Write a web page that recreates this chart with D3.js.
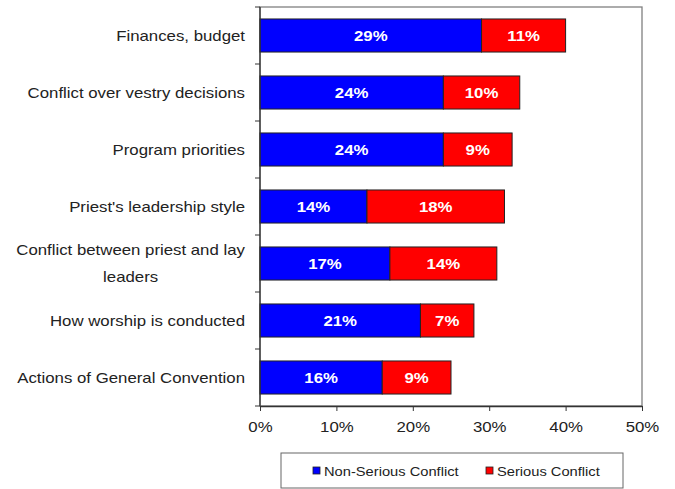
<!DOCTYPE html>
<html>
<head>
<meta charset="utf-8">
<script src="https://cdn.jsdelivr.net/npm/d3@7"></script>
<style>
  html, body { margin: 0; padding: 0; background: #fff; }
  svg { display: block; font-family: "Liberation Sans", Arial, sans-serif; }
</style>
</head>
<body>
<svg id="chart" width="675" height="489"></svg>
<script>
// Sources of congregational conflict, percent of respondents
const categories = [
  "Finances, budget",
  "Conflict over vestry decisions",
  "Program priorities",
  "Priest's leadership style",
  "Conflict between priest and lay|leaders",
  "How worship is conducted",
  "Actions of General Convention"
];
const nonSerious = [29, 24, 24, 14, 17, 21, 16];
const serious    = [11, 10, 9, 18, 14, 7, 9];
const seriesNames = ["Non-Serious Conflict", "Serious Conflict"];
const seriesColors = ["#0000ff", "#ff0000"];
const xTicks = [0, 10, 20, 30, 40, 50];

const svg = d3.select("#chart");
const plot = { left: 260, top: 7, right: 642, bottom: 406 };
const stretch = 1.2; // wide typeface proportions

// text placed at (x, y), widened horizontally around its anchor
function wideText(parent, x, y, str, anchor, size, sx) {
  return parent.append("text")
    .attr("transform", `translate(${x},${y}) scale(${sx},1)`)
    .attr("dy", "0.36em")
    .attr("text-anchor", anchor)
    .attr("font-size", size)
    .text(str);
}

const x = d3.scaleLinear().domain([0, 50]).range([plot.left, plot.right]);
const y = d3.scaleBand().domain(categories).range([plot.top, plot.bottom]).paddingInner(0.42).paddingOuter(0.21);
const yOuter = d3.scaleBand().domain(categories).range([plot.top, plot.bottom]);

// plot frame
svg.append("rect")
  .attr("x", plot.left).attr("y", plot.top)
  .attr("width", plot.right - plot.left).attr("height", plot.bottom - plot.top)
  .attr("fill", "none").attr("stroke", "#808080").attr("stroke-width", 1.3);

// stacked bars
const rows = categories.map((c, i) => ({ cat: c, vals: [nonSerious[i], serious[i]] }));
rows.forEach(r => {
  let acc = 0;
  r.vals.forEach((v, j) => {
    const x0 = acc, x1 = acc + v;
    acc = x1;
    svg.append("rect")
      .attr("x", x(x0)).attr("y", y(r.cat))
      .attr("width", x(x1) - x(x0)).attr("height", y.bandwidth())
      .attr("fill", seriesColors[j])
      .attr("stroke", "#222").attr("stroke-width", 1);
    wideText(svg, (x(x0) + x(x1)) / 2, y(r.cat) + y.bandwidth() / 2, v + "%", "middle", 14, stretch)
      .attr("fill", "#fff").attr("font-weight", "bold");
  });
});

// x axis
const xAxis = svg.append("g")
  .attr("transform", `translate(0,${plot.bottom})`)
  .call(d3.axisBottom(x).tickValues(xTicks).tickFormat(d => d + "%").tickSize(5).tickSizeOuter(0));
xAxis.select(".domain").attr("stroke", "#333").attr("stroke-width", 1.3);
xAxis.selectAll(".tick line").attr("stroke", "#333");
xAxis.selectAll(".tick text").remove();
xAxis.selectAll(".tick").each(function(d) {
  wideText(d3.select(this), 0, 21, d + "%", "middle", 14, stretch).attr("fill", "#222");
});

// y axis line with ticks at band boundaries
svg.append("line")
  .attr("x1", plot.left).attr("x2", plot.left)
  .attr("y1", plot.top).attr("y2", plot.bottom)
  .attr("stroke", "#333").attr("stroke-width", 1.3);
const bounds = categories.map(c => yOuter(c)).concat([plot.bottom]);
svg.selectAll(".ytick").data(bounds).enter().append("line")
  .attr("x1", plot.left - 5).attr("x2", plot.left)
  .attr("y1", d => d).attr("y2", d => d)
  .attr("stroke", "#333");

// category labels
const labelRight = 245;
categories.forEach(c => {
  const lines = c.split("|");
  const cy = yOuter(c) + yOuter.bandwidth() / 2;
  if (lines.length === 1) {
    wideText(svg, labelRight, cy, lines[0], "end", 14, stretch).attr("fill", "#222");
  } else {
    const probe = lines.map(ln => svg.append("text").attr("font-size", 14).text(ln));
    const w = d3.max(probe, t => t.node().getComputedTextLength()) * stretch;
    probe.forEach(t => t.remove());
    lines.forEach((ln, k) => {
      wideText(svg, labelRight - w / 2, cy + (k - (lines.length - 1) / 2) * 27, ln, "middle", 14, stretch)
        .attr("fill", "#222");
    });
  }
});

// legend
const legend = svg.append("g");
legend.append("rect")
  .attr("x", 281).attr("y", 453).attr("width", 342).attr("height", 35)
  .attr("fill", "#fff").attr("stroke", "#666").attr("stroke-width", 1);
const legendX = [313, 486];
seriesNames.forEach((n, i) => {
  legend.append("rect")
    .attr("x", legendX[i]).attr("y", 467).attr("width", 7).attr("height", 7)
    .attr("fill", seriesColors[i]).attr("stroke", "#222").attr("stroke-width", 0.8);
  wideText(legend, legendX[i] + 11, 471, n, "start", 13, 1.13).attr("fill", "#222");
});
</script>
</body>
</html>
